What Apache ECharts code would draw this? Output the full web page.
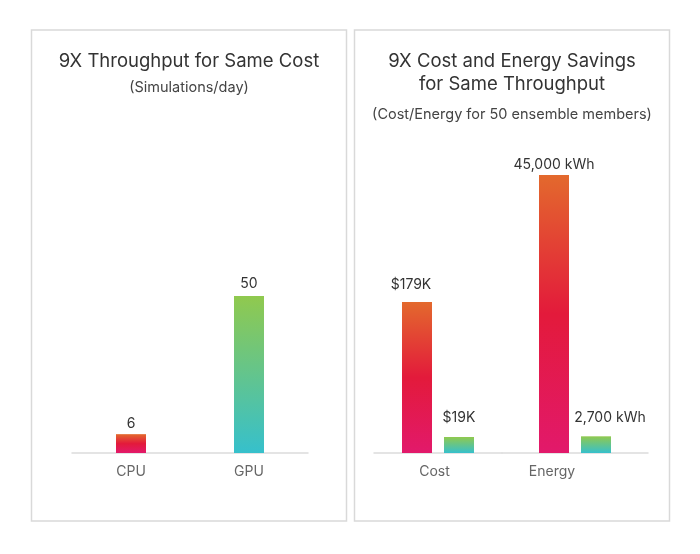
<!DOCTYPE html>
<html>
<head>
<meta charset="utf-8">
<script src="https://cdn.jsdelivr.net/npm/echarts@6/dist/echarts.min.js"></script>
<style>
html,body{margin:0;padding:0;background:#fff;}
#c{width:700px;height:554px;}
</style>
</head>
<body>
<div id="c"></div>
<script>
// ---- data ----
const leftCategories = ['CPU', 'GPU'];
const simulationsPerDay = [6, 50];

const costCategory = ['Cost'];
const costCPU = [179];   // $K
const costGPU = [19];    // $K

const energyCategory = ['Energy'];
const energyCPU = [45000]; // kWh
const energyGPU = [2700];  // kWh

const leftTitle = '9X Throughput for Same Cost';
const leftSub = '(Simulations/day)';
const rightTitle1 = '9X Cost and Energy Savings';
const rightTitle2 = 'for Same Throughput';
const rightSub = '(Cost/Energy for 50 ensemble members)';

// ---- styles ----
const FONT = 'Inter, "Open Sans", sans-serif';
function cpuGrad() {
  return new echarts.graphic.LinearGradient(0, 0, 0, 1, [
    {offset: 0, color: '#e3692d'},
    {offset: 0.5, color: '#e31a3b'},
    {offset: 1, color: '#e2196b'}
  ]);
}
function gpuGrad() {
  return new echarts.graphic.LinearGradient(0, 0, 0, 1, [
    {offset: 0, color: '#90c94e'},
    {offset: 1, color: '#36c0cc'}
  ]);
}
const axisLineStyle = {show: true, lineStyle: {color: '#dcdcdc', width: 1.5}};
const valLabel = {show: true, position: 'top', color: '#333', fontSize: 14, fontFamily: FONT};

const chart = echarts.init(document.getElementById('c'), null, {renderer: 'canvas'});

const leftData = simulationsPerDay.map((v, i) => ({
  value: v,
  itemStyle: {color: i === 0 ? cpuGrad() : gpuGrad()},
  label: {distance: i === 0 ? 3 : 5}
}));

function catAxis(grid, cats, pad) {
  return {
    type: 'category', gridIndex: grid, data: cats,
    axisLine: axisLineStyle, axisTick: {show: false},
    axisLabel: {color: '#666', fontSize: 14, fontFamily: FONT, margin: 12, padding: pad}
  };
}
function valAxis(grid, max) {
  return {type: 'value', gridIndex: grid, min: 0, max: max, show: false, splitLine: {show: false}};
}

const option = {
  animation: false,
  backgroundColor: '#fff',
  grid: [
    {left: 72, width: 236, top: 296, bottom: 101},
    {left: 374, width: 128, top: 302, bottom: 101},
    {left: 502, width: 146, top: 175, bottom: 101}
  ],
  xAxis: [
    catAxis(0, leftCategories, [0, 0, 0, 0]),
    catAxis(1, costCategory, [0, 7, 0, 0]),
    catAxis(2, energyCategory, [0, 46, 0, 0])
  ],
  yAxis: [
    valAxis(0, simulationsPerDay[1]),
    valAxis(1, costCPU[0]),
    valAxis(2, energyCPU[0])
  ],
  series: [
    {type: 'bar', xAxisIndex: 0, yAxisIndex: 0, data: leftData, barWidth: 30, label: valLabel},
    {type: 'bar', xAxisIndex: 1, yAxisIndex: 1, barWidth: 30, barGap: '40%',
     data: costCPU.map(v => ({value: v, label: {distance: 10, offset: [-6, 0]}})),
     itemStyle: {color: cpuGrad()},
     label: Object.assign({}, valLabel, {formatter: p => '$' + p.value + 'K'})},
    {type: 'bar', xAxisIndex: 1, yAxisIndex: 1, barWidth: 30, barGap: '40%',
     data: costGPU.map(v => ({value: v, label: {distance: 12}})),
     itemStyle: {color: gpuGrad()},
     label: Object.assign({}, valLabel, {formatter: p => '$' + p.value + 'K'})},
    {type: 'bar', xAxisIndex: 2, yAxisIndex: 2, barWidth: 30, barGap: '40%',
     data: energyCPU.map(v => ({value: v, label: {distance: 3}})),
     itemStyle: {color: cpuGrad()},
     label: Object.assign({}, valLabel, {formatter: p => p.value.toLocaleString('en-US') + ' kWh'})},
    {type: 'bar', xAxisIndex: 2, yAxisIndex: 2, barWidth: 30, barGap: '40%',
     data: energyGPU.map(v => ({value: v, label: {distance: 12, offset: [14, 0]}})),
     itemStyle: {color: gpuGrad()},
     label: Object.assign({}, valLabel, {formatter: p => p.value.toLocaleString('en-US') + ' kWh'})}
  ],
  graphic: [
    {type: 'rect', shape: {x: 31.5, y: 30, width: 315, height: 491}, style: {fill: 'none', stroke: '#d9d9d9', lineWidth: 1.5}},
    {type: 'rect', shape: {x: 354.5, y: 30, width: 315, height: 491}, style: {fill: 'none', stroke: '#d9d9d9', lineWidth: 1.5}},
    {type: 'text', x: 189, y: 61, style: {text: leftTitle, textAlign: 'center', textVerticalAlign: 'middle', font: '18.5px ' + FONT, fill: '#333'}},
    {type: 'text', x: 189, y: 88, style: {text: leftSub, textAlign: 'center', textVerticalAlign: 'middle', font: '14.5px ' + FONT, fill: '#444'}},
    {type: 'text', x: 512, y: 61, style: {text: rightTitle1, textAlign: 'center', textVerticalAlign: 'middle', font: '18.5px ' + FONT, fill: '#333'}},
    {type: 'text', x: 512, y: 84, style: {text: rightTitle2, textAlign: 'center', textVerticalAlign: 'middle', font: '18.5px ' + FONT, fill: '#333'}},
    {type: 'text', x: 512, y: 115, style: {text: rightSub, textAlign: 'center', textVerticalAlign: 'middle', font: '14.5px ' + FONT, fill: '#444'}}
  ]
};
chart.setOption(option);
</script>
</body>
</html>
